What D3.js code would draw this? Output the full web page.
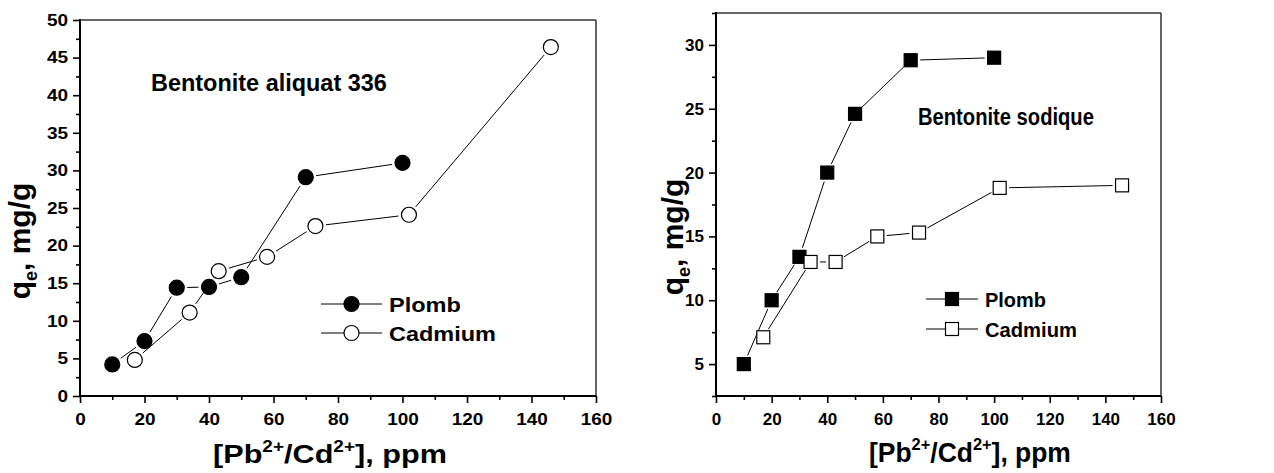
<!DOCTYPE html>
<html>
<head>
<meta charset="utf-8">
<script src="https://cdn.jsdelivr.net/npm/d3@7"></script>
<style>
  body { margin: 0; background: #fff; }
  text { font-family: Arial, 'Liberation Sans', sans-serif; font-weight: bold; fill: #000; }
</style>
</head>
<body>
<svg id="chart" width="1274" height="473"></svg>
<script>
// data
const ppmPlomb = [10, 20, 30, 40, 50, 70, 100]
const ppmCadmium = [17, 34, 43, 58, 73, 102, 146]

const aliquatPlomb = [4.2, 7.3, 14.4, 14.5, 15.8, 29.1, 31.0]
const aliquatCadmium = [4.8, 11.1, 16.6, 18.5, 22.6, 24.1, 46.4]

const sodiquePlomb = [5.0, 10.0, 13.4, 20.0, 24.6, 28.8, 29.0]
const sodiqueCadmium = [7.1, 13.0, 13.0, 15.0, 15.3, 18.8, 19.0]

const xTicks = [0, 20, 40, 60, 80, 100, 120, 140, 160]
const yTicksAliquat = [0, 5, 10, 15, 20, 25, 30, 35, 40, 45, 50]
const yTicksSodique = [5, 10, 15, 20, 25, 30]
const seriesNames = ['Plomb', 'Cadmium']

const svg = d3.select('#chart')

// squeeze / stretch a text horizontally so it spans a given width
function fitWidth(sel, w) {
  let bb = sel.node().getBBox()
  let sx = w / bb.width
  let t = sel.attr('transform') || ''
  sel.attr('transform', t + ` scale(${sx},1)`)
}

function styleTickText(sel, fs, sx) {
  sel.selectAll('text')
    .attr('font-family', null)
    .style('font-size', fs + 'px')
    .attr('fill', '#000')
    .each(function() {
      // stretch around the text's own anchor point
      let t = d3.select(this)
      let tx = +t.attr('x') || 0
      t.attr('transform', `translate(${tx},0) scale(${sx},1) translate(${-tx},0)`)
    })
}

function drawPanel(cfg) {
  let x = d3.scaleLinear().domain([0, 160]).range([cfg.left, cfg.right])
  let y = d3.scaleLinear().domain(cfg.yDomain).range([cfg.bottom, cfg.top])

  let g = svg.append('g')

  // minor ticks
  let xMinor = d3.range(10, 160, 20)
  let yMinor = d3.range(cfg.yDomain[0], cfg.yDomain[1] + 0.01, 2.5)
    .filter(v => v % 5 !== 0)

  g.append('g')
    .attr('transform', `translate(0,${cfg.bottom})`)
    .call(d3.axisBottom(x).tickValues(xMinor).tickSize(4).tickFormat(''))
    .call(a => a.select('.domain').remove())
  g.append('g')
    .attr('transform', `translate(${cfg.left},0)`)
    .call(d3.axisLeft(y).tickValues(yMinor).tickSize(4).tickFormat(''))
    .call(a => a.select('.domain').remove())

  // major ticks with labels
  let xa = g.append('g')
    .attr('transform', `translate(0,${cfg.bottom})`)
    .call(d3.axisBottom(x).tickValues(xTicks).tickSize(7).tickPadding(10).tickFormat(d3.format('d')))
  xa.select('.domain').remove()
  styleTickText(xa, cfg.tickFont, cfg.tickScale)

  let ya = g.append('g')
    .attr('transform', `translate(${cfg.left},0)`)
    .call(d3.axisLeft(y).tickValues(cfg.yTicks).tickSize(7).tickPadding(5).tickFormat(d3.format('d')))
  ya.select('.domain').remove()
  styleTickText(ya, cfg.tickFont, cfg.tickScale)

  g.selectAll('.tick line').attr('stroke', '#000').attr('stroke-width', 1.6)

  // frame
  g.append('line').attr('x1', cfg.left).attr('x2', cfg.right).attr('y1', cfg.top).attr('y2', cfg.top)
    .attr('stroke', '#333').attr('stroke-width', 1.5)
  g.append('line').attr('x1', cfg.right).attr('x2', cfg.right).attr('y1', cfg.top).attr('y2', cfg.bottom)
    .attr('stroke', '#333').attr('stroke-width', 1.5)
  g.append('line').attr('x1', cfg.left).attr('x2', cfg.right).attr('y1', cfg.bottom).attr('y2', cfg.bottom)
    .attr('stroke', '#000').attr('stroke-width', 2)
  g.append('line').attr('x1', cfg.left).attr('x2', cfg.left).attr('y1', cfg.top - 1).attr('y2', cfg.bottom)
    .attr('stroke', '#000').attr('stroke-width', 2)

  // series
  cfg.series.forEach((s, si) => {
    let pts = s.xs.map((v, i) => [x(v), y(s.ys[i])])
    let gap = cfg.markSize / 2 + 3
    for (let i = 0; i < pts.length - 1; i++) {
      let [x1, y1] = pts[i]
      let [x2, y2] = pts[i + 1]
      let len = Math.hypot(x2 - x1, y2 - y1)
      if (len <= gap * 2) continue
      let ux = (x2 - x1) / len
      let uy = (y2 - y1) / len
      g.append('line')
        .attr('x1', x1 + ux * gap).attr('y1', y1 + uy * gap)
        .attr('x2', x2 - ux * gap).attr('y2', y2 - uy * gap)
        .attr('stroke', '#000').attr('stroke-width', 1)
    }
    let fill = si === 0 ? '#000' : '#fff'
    pts.forEach(p => drawMarker(g, cfg.shape, p[0], p[1], cfg.markSize, fill))
  })

  // legend
  seriesNames.forEach((name, i) => {
    let ly = cfg.legend.y[i]
    g.append('line')
      .attr('x1', cfg.legend.x1).attr('x2', cfg.legend.x2)
      .attr('y1', ly).attr('y2', ly)
      .attr('stroke', '#000').attr('stroke-width', 1)
    drawMarker(g, cfg.shape, (cfg.legend.x1 + cfg.legend.x2) / 2, ly, cfg.markSize, i === 0 ? '#000' : '#fff')
    let t = g.append('text')
      .text(name)
      .attr('font-size', cfg.legend.font)
      .attr('transform', `translate(${cfg.legend.tx},${ly + cfg.legend.font * 0.36})`)
    fitWidth(t, cfg.legend.widths[i])
  })

  // panel title
  let title = g.append('text')
    .text(cfg.title)
    .attr('font-size', cfg.titleFont)
    .attr('transform', `translate(${cfg.titleX},${cfg.titleY})`)
  fitWidth(title, cfg.titleW)

  // x axis title
  let xt = g.append('text')
    .attr('font-size', cfg.xLabel.font)
    .attr('transform', `translate(${cfg.xLabel.x},${cfg.xLabel.y})`)
  xt.append('tspan').text('[Pb')
  xt.append('tspan').text('2+').attr('font-size', '62%').attr('dy', -cfg.xLabel.font * 0.42)
  xt.append('tspan').text('/Cd').attr('dy', cfg.xLabel.font * 0.42)
  xt.append('tspan').text('2+').attr('font-size', '62%').attr('dy', -cfg.xLabel.font * 0.42)
  xt.append('tspan').text('], ppm').attr('dy', cfg.xLabel.font * 0.42)
  fitWidth(xt, cfg.xLabel.w)

  // y axis title
  let yt = g.append('text')
    .attr('font-size', cfg.yLabel.font)
    .attr('text-anchor', 'middle')
    .attr('transform', `translate(${cfg.yLabel.x},${cfg.yLabel.y}) rotate(-90)`)
  yt.append('tspan').text('q')
  yt.append('tspan').text('e').attr('font-size', '60%').attr('dy', cfg.yLabel.font * 0.22)
  yt.append('tspan').text(', mg/g').attr('dy', -cfg.yLabel.font * 0.22)
}

function drawMarker(g, shape, cx, cy, size, fill) {
  if (shape === 'circle') {
    g.append('circle')
      .attr('cx', cx).attr('cy', cy).attr('r', size / 2)
      .attr('fill', fill).attr('stroke', '#000').attr('stroke-width', 1.2)
  } else {
    g.append('rect')
      .attr('x', cx - size / 2).attr('y', cy - size / 2)
      .attr('width', size).attr('height', size)
      .attr('fill', fill).attr('stroke', '#000').attr('stroke-width', 1.2)
  }
}

drawPanel({
  left: 80, right: 596, top: 20, bottom: 396,
  yDomain: [0, 50], yTicks: yTicksAliquat, tickFont: 16.5, tickScale: 1.15,
  shape: 'circle', markSize: 15,
  series: [
    { xs: ppmPlomb, ys: aliquatPlomb },
    { xs: ppmCadmium, ys: aliquatCadmium }
  ],
  legend: { x1: 321, x2: 382, tx: 389, y: [304, 333], font: 21, widths: [72, 107] },
  title: 'Bentonite aliquat 336', titleFont: 23, titleX: 151, titleY: 91, titleW: 236,
  xLabel: { x: 213, y: 463, font: 26, w: 234 },
  yLabel: { x: 30, y: 241, font: 30 }
})

drawPanel({
  left: 716, right: 1161, top: 13, bottom: 396,
  yDomain: [2.5, 32.5], yTicks: yTicksSodique, tickFont: 17, tickScale: 1.0,
  shape: 'square', markSize: 13,
  series: [
    { xs: ppmPlomb, ys: sodiquePlomb },
    { xs: ppmCadmium, ys: sodiqueCadmium }
  ],
  legend: { x1: 926, x2: 978, tx: 985, y: [299, 329], font: 21, widths: [61, 92] },
  title: 'Bentonite sodique', titleFont: 23, titleX: 918, titleY: 125, titleW: 176,
  xLabel: { x: 869, y: 462, font: 28, w: 202 },
  yLabel: { x: 683, y: 237, font: 30 }
})
</script>
</body>
</html>
